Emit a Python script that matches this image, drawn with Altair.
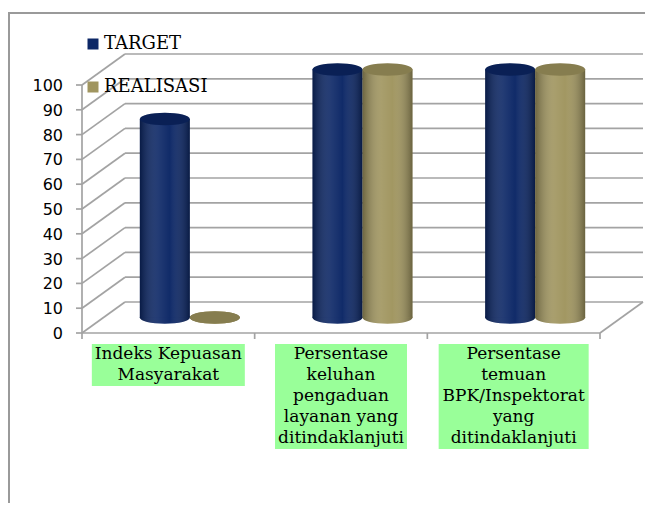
import altair as alt
import pandas as pd

# ---------------- data ----------------
categories = [
    "Indeks Kepuasan\nMasyarakat",
    "Persentase\nkeluhan\npengaduan\nlayanan yang\nditindaklanjuti",
    "Persentase\ntemuan\nBPK/Inspektorat\nyang\nditindaklanjuti",
]
series = ["TARGET", "REALISASI"]
target = [80, 100, 100]
realisasi = [0, 100, 100]
y_ticks = [0, 10, 20, 30, 40, 50, 60, 70, 80, 90, 100]
colors = ["#0c2766", "#a0955f"]

# ---------------- layout (pixels) ----------------
W, H = 637, 495
PX_X = 518 / 3          # px per category unit
PX_Y = 2.48             # px per value unit
X0 = 74                 # view x of front-left corner
Y0 = 325                # view y of value 0 (front plane)
DX = 43 / PX_X          # depth offset in x units
DY = 31 / PX_Y          # depth offset in value units
BAR_W = 50 / PX_X
box_w_px = [153, 132, 150]
LINE_H = 21
BOX_TOP = 11
GRID = "#a3a3a3"

xdom = [-X0 / PX_X, (W - X0) / PX_X]
ydom = [-(H - Y0) / PX_Y, Y0 / PX_Y]
xs = alt.Scale(domain=xdom, nice=False, zero=False)
ys = alt.Scale(domain=ydom, nice=False, zero=False)

def X(f):
    return alt.X(f, type="quantitative", scale=xs, axis=None)

def Y(f):
    return alt.Y(f, type="quantitative", scale=ys, axis=None)

n = len(categories)

# gridlines
grid = pd.DataFrame({"v": y_ticks})
grid["x0"] = 0.0
grid["x1"] = DX
grid["xb2"] = n + DX
grid["yb"] = grid["v"] + DY

side = alt.Chart(grid).mark_rule(color=GRID, strokeWidth=1.7).encode(
    x=X("x0"), x2="x1", y=Y("v"), y2="yb")
back = alt.Chart(grid).mark_rule(color=GRID, strokeWidth=1.7).encode(
    x=X("x1"), x2="xb2", y=Y("yb"), y2="yb")

floor = pd.DataFrame({
    "xa": [0.0, float(n)], "xb": [float(n), n + DX],
    "ya": [0.0, 0.0], "yb": [0.0, DY]})
floor_l = alt.Chart(floor).mark_rule(color=GRID, strokeWidth=1.7).encode(
    x=X("xa"), x2="xb", y=Y("ya"), y2="yb")

axis_df = pd.DataFrame({"x": [0.0], "ya": [0.0], "yb": [100.0]})
yaxis = alt.Chart(axis_df).mark_rule(color=GRID, strokeWidth=1.7).encode(
    x=X("x"), y=Y("ya"), y2="yb")
yticks = alt.Chart(grid).mark_rule(color=GRID, strokeWidth=1.7, xOffset=-6).encode(
    x=X("x0"), x2="x0", y=Y("v"), y2="v")
xt = pd.DataFrame({"b": [float(i) for i in range(n + 1)], "z": 0.0})
xticks = alt.Chart(xt).mark_rule(color=GRID, strokeWidth=1.7, y2Offset=6).encode(
    x=X("b"), x2="b", y=Y("z"), y2="z")
ylabels = alt.Chart(grid).mark_text(
    align="right", baseline="middle", dx=-19, dy=1, font="DejaVu Sans",
    fontSize=16, color="#000000").encode(x=X("x0"), y=Y("v"), text="v:Q")

# bars
rows = []
for i in range(n):
    c = i + 0.5 + DX / 2
    for s, vals in ((0, target), (1, realisasi)):
        x1 = c - BAR_W if s == 0 else c
        rows.append({"series": series[s], "x1": x1, "x2": x1 + BAR_W,
                     "xc": x1 + BAR_W / 2, "base": DY / 2,
                     "top": vals[i] + DY / 2, "value": vals[i]})
bars = pd.DataFrame(rows)

color = alt.Color("series:N", scale=alt.Scale(domain=series, range=colors),
                  legend=alt.Legend(title=None, orient="none", legendX=76,
                                    legendY=27, symbolType="square",
                                    symbolSize=121, symbolStrokeWidth=0,
                                    labelFont="DejaVu Serif", labelFontSize=18,
                                    labelColor="#000000", labelOffset=2,
                                    rowPadding=25, padding=0))

ellipse = "M-1,0A1,0.25,0,1,1,1,0A1,0.25,0,1,1,-1,0Z"
shade = alt.LinearGradient(
    gradient="linear", x1=0, x2=1, y1=0, y2=0,
    stops=[alt.GradientStop(color="rgba(0,0,0,0.32)", offset=0),
           alt.GradientStop(color="rgba(255,255,255,0.09)", offset=0.38),
           alt.GradientStop(color="rgba(255,255,255,0.02)", offset=0.6),
           alt.GradientStop(color="rgba(0,0,0,0.34)", offset=1)])

bot = alt.Chart(bars).mark_point(filled=True, shape=ellipse, size=2500,
                                 opacity=1, strokeWidth=0).encode(
    x=X("xc"), y=Y("base"), color=color)
bot_sh = alt.Chart(bars).mark_point(filled=True, shape=ellipse, size=2500,
                                    opacity=1, strokeWidth=0, fill=shade).encode(
    x=X("xc"), y=Y("base"))
body = alt.Chart(bars).mark_rect(strokeWidth=0).encode(
    x=X("x1"), x2="x2", y=Y("base"), y2="top", color=color)
body_sh = alt.Chart(bars).mark_rect(strokeWidth=0, fill=shade).encode(
    x=X("x1"), x2="x2", y=Y("base"), y2="top")
cap = alt.Chart(bars).mark_point(filled=True, shape=ellipse, size=2500,
                                 opacity=1, strokeWidth=0).encode(
    x=X("xc"), y=Y("top"), color=color)
cap_sh = alt.Chart(bars).mark_point(filled=True, shape=ellipse, size=2500,
                                    opacity=1, strokeWidth=0,
                                    fill="rgba(0,0,0,0.16)").encode(
    x=X("xc"), y=Y("top"))

# category labels
lab = []
for i, t in enumerate(categories):
    nl = len(t.split("\n"))
    c = i + 0.5
    hw = box_w_px[i] / 2 / PX_X
    lab.append({"label": t, "c": c, "bx1": c - hw, "bx2": c + hw,
                "by1": -BOX_TOP / PX_Y, "by2": -(BOX_TOP + LINE_H * nl) / PX_Y})
lab = pd.DataFrame(lab)
boxes = alt.Chart(lab).mark_rect(color="#99ff99").encode(
    x=X("bx1"), x2="bx2", y=Y("by1"), y2="by2")
texts = alt.Chart(lab).mark_text(
    align="center", baseline="top", lineBreak="\n", lineHeight=LINE_H,
    font="DejaVu Serif", fontSize=17, color="#000000", dy=2).encode(
    x=X("c"), y=Y("by1"), text="label:N")

# outer frame (left and top edges)
frame_l = alt.Chart(grid).mark_rule(color="#9a9a9a", strokeWidth=1.5).encode(
    x=alt.value(0.75), y=alt.value(4.75), y2=alt.value(H))
frame_t = alt.Chart(grid).mark_rule(color="#9a9a9a", strokeWidth=1.5).encode(
    y=alt.value(4.75), x=alt.value(0), x2=alt.value(W))

chart = alt.layer(
    frame_l, frame_t, side, back, floor_l, yaxis, yticks, xticks, ylabels,
    bot, bot_sh, body, body_sh, cap, cap_sh, boxes, texts
).properties(
    width=W, height=H, padding=0,
    autosize=alt.AutoSizeParams(type="none")
).configure_view(stroke=None)

chart.save("out.html", embed_options={"renderer": "svg", "actions": False})
